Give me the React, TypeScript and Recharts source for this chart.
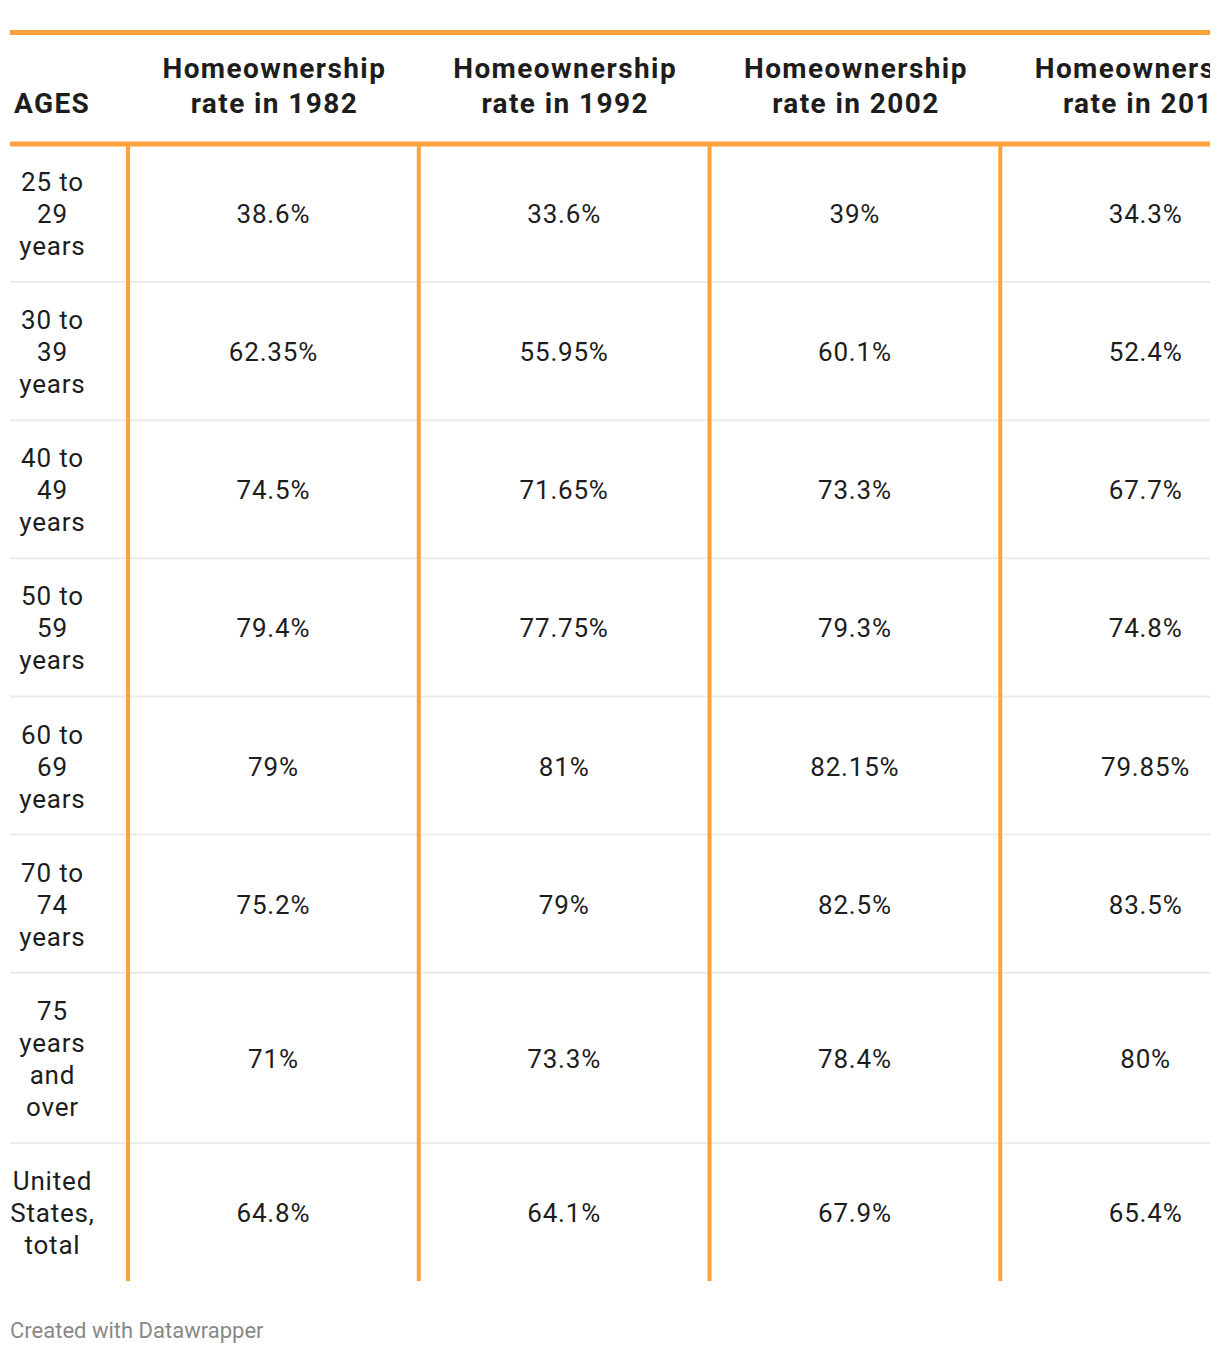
import { ScatterChart, Scatter, XAxis, YAxis, ReferenceLine } from "recharts"

// table content
const ageGroups = [
	"25 to\n29\nyears",
	"30 to\n39\nyears",
	"40 to\n49\nyears",
	"50 to\n59\nyears",
	"60 to\n69\nyears",
	"70 to\n74\nyears",
	"75\nyears\nand\nover",
	"United\nStates,\ntotal",
]
const years = ["1982", "1992", "2002", "2012"]
const rate1982 = [38.6, 62.35, 74.5, 79.4, 79, 75.2, 71, 64.8]
const rate1992 = [33.6, 55.95, 71.65, 77.75, 81, 79, 73.3, 64.1]
const rate2002 = [39, 60.1, 73.3, 79.3, 82.15, 82.5, 78.4, 67.9]
const rate2012 = [34.3, 52.4, 67.7, 74.8, 79.85, 83.5, 80, 65.4]
const rates = [rate1982, rate1992, rate2002, rate2012]

const ORANGE = "#fea23a"
const FONT = "Roboto, sans-serif"
const AGE_W = 0.406 // width of the ages column, in data columns
const AGE_X = -0.26 // where the age labels are centred
const ROW_PAD = 1.3125 // extra space per row, in text lines

// rows grow with their number of text lines
const rowLines = ageGroups.map((a) => a.split("\n").length)
const rowBounds = rowLines.reduce(
	(acc, n) => [...acc, acc[acc.length - 1] + n + ROW_PAD],
	[0]
)
const rowCenters = rowLines.map((_, i) => (rowBounds[i] + rowBounds[i + 1]) / 2)
const total = rowBounds[rowBounds.length - 1]

const cells = rates.flatMap((col, j) =>
	col.map((v, i) => ({ x: j + 0.5, y: rowCenters[i], label: `${v}%` }))
)
const ageCells = ageGroups.map((a, i) => ({ x: AGE_X, y: rowCenters[i], label: a }))

const headerTicks = [-AGE_W, ...years.map((_, j) => j + 0.5)]
const headerLabels = ["AGES", ...years.map((y) => `Homeownership\nrate in ${y}`)]

function HeaderTick(props: any) {
	const { x, y, index } = props
	const lines = headerLabels[index].split("\n")
	const first = index === 0
	const tx = first ? x + 4 : x + 1
	return (
		<text
			textAnchor={first ? "start" : "middle"}
			fontFamily={FONT}
			fontWeight={700}
			fontSize={28}
			letterSpacing={1.4}
			fill="#1d1d1d"
		>
			{lines.map((l, k) => (
				<tspan key={k} x={tx} y={y - 29 - (lines.length - 1 - k) * 35.5}>
					{l}
				</tspan>
			))}
		</text>
	)
}

function CellText(props: any) {
	const { cx, cy, payload } = props
	const lines = String(payload.label).split("\n")
	return (
		<text textAnchor="middle" fontFamily={FONT} fontSize={26} letterSpacing={0.8} fill="#1d1d1d">
			{lines.map((l, k) => (
				<tspan key={k} x={cx} y={cy + 10 + (k - (lines.length - 1) / 2) * 32}>
					{l}
				</tspan>
			))}
		</text>
	)
}

export default function App() {
	return (
		<div style={{ position: "absolute", left: 0, top: 0, width: 1220, height: 1356, background: "#fff" }}>
			<div
				style={{
					position: "absolute",
					left: 10,
					top: 30,
					width: 1200,
					overflow: "hidden",
					borderTop: `5px solid ${ORANGE}`,
				}}
			>
				<ScatterChart width={1281} height={1246} margin={{ top: 0, right: 0, bottom: 0, left: 0 }}>
					<XAxis
						type="number"
						dataKey="x"
						orientation="top"
						domain={[-AGE_W, 4]}
						ticks={headerTicks}
						interval={0}
						height={109}
						tickSize={0}
						tickLine={false}
						axisLine={{ stroke: ORANGE, strokeWidth: 5 }}
						tick={<HeaderTick />}
					/>
					<YAxis type="number" dataKey="y" domain={[0, total]} reversed hide />
					{rowBounds.slice(1, -1).map((b) => (
						<ReferenceLine key={`h${b}`} y={b} stroke="#ececec" strokeWidth={2} />
					))}
					{years.map((_, j) => (
						<ReferenceLine key={`v${j}`} x={j} stroke={ORANGE} strokeWidth={4} />
					))}
					<Scatter data={ageCells} shape={<CellText />} isAnimationActive={false} />
					<Scatter data={cells} shape={<CellText />} isAnimationActive={false} />
				</ScatterChart>
			</div>
			<div
				style={{
					position: "absolute",
					left: 10,
					top: 1318,
					fontFamily: FONT,
					fontSize: 22,
					color: "#888",
				}}
			>
				Created with Datawrapper
			</div>
		</div>
	)
}
